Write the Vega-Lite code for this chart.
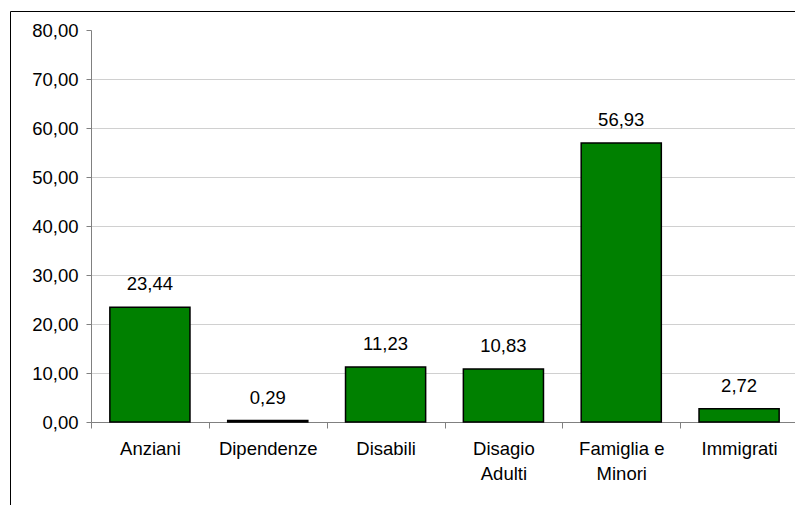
{
  "$schema": "https://vega.github.io/schema/vega-lite/v6.json",
  "autosize": "none",
  "padding": {"left": 10, "top": 11, "right": -10, "bottom": -10},
  "width": 795,
  "height": 504,
  "background": "white",
  "config": {
    "locale": {
      "number": {"decimal": ",", "thousands": ".", "grouping": [3], "currency": ["", " €"]}
    },
    "view": {"stroke": "black", "strokeWidth": 1},
    "font": "Liberation Sans",
    "axis": {
      "labelFont": "Liberation Sans",
      "labelFontSize": 18.5,
      "labelColor": "black",
      "domainColor": "#808080",
      "tickColor": "#808080"
    }
  },
  "data": {
    "values": [
      {"area": "Anziani", "pct": 23.44},
      {"area": "Dipendenze", "pct": 0.29},
      {"area": "Disabili", "pct": 11.23},
      {"area": "Disagio Adulti", "pct": 10.83},
      {"area": "Famiglia e Minori", "pct": 56.93},
      {"area": "Immigrati", "pct": 2.72}
    ]
  },
  "encoding": {
    "x": {
      "field": "area",
      "type": "nominal",
      "sort": null,
      "title": null,
      "scale": {"paddingInner": 0, "paddingOuter": 0.3734, "align": 0.9205},
      "axis": {
        "orient": "bottom",
        "offset": -93,
        "labelAngle": 0,
        "tickBand": "extent",
        "tickSize": 6,
        "labelPadding": 11,
        "labelLineHeight": 25,
        "labelExpr": "datum.value == 'Disagio Adulti' ? ['Disagio', 'Adulti'] : datum.value == 'Famiglia e Minori' ? ['Famiglia e', 'Minori'] : datum.value",
        "domainDash": [0, 81, 1000, 0]
      }
    },
    "y": {
      "field": "pct",
      "type": "quantitative",
      "title": null,
      "scale": {"domain": [-18.9796, 83.8776], "nice": false, "zero": false},
      "axis": {
        "orient": "left",
        "offset": -81,
        "values": [0, 10, 20, 30, 40, 50, 60, 70, 80],
        "format": ".2f",
        "tickSize": 5,
        "labelPadding": 8,
        "domainDash": [0, 93, 392, 1000],
        "grid": true,
        "gridColor": "#d0d0d0",
        "gridOpacity": {"condition": {"test": "datum.value >= 80", "value": 0}, "value": 1},
        "gridDash": [0, 81, 1000, 0]
      }
    }
  },
  "layer": [
    {
      "mark": {
        "type": "bar",
        "color": "#008000",
        "stroke": "black",
        "strokeWidth": 1.5,
        "width": {"band": 0.68}
      },
      "encoding": {"y2": {"datum": 0}}
    },
    {
      "mark": {
        "type": "text",
        "baseline": "alphabetic",
        "dy": -17,
        "fontSize": 18.5,
        "color": "black"
      },
      "encoding": {"text": {"field": "pct", "type": "quantitative", "format": ".2f"}}
    }
  ]
}
